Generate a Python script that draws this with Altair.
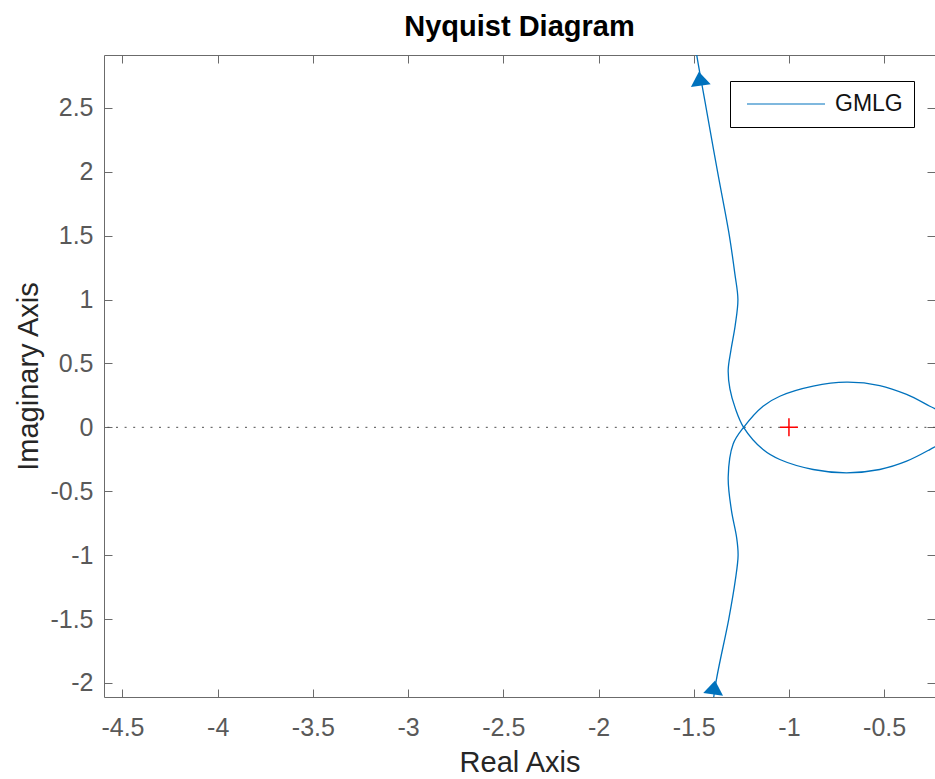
import altair as alt
import pandas as pd

# ---- data ----
# Nyquist curve, in drawing order (real part, imaginary part)
curve_re = [-1.410, -1.384, -1.316, -1.282, -1.267, -1.275, -1.302, -1.319, -1.293, -1.238,
            -1.136, -1.048, -0.873, -0.698, -0.523, -0.382, -0.260, -0.165, -0.125,
            -0.165, -0.260, -0.382, -0.523, -0.698, -0.873, -1.048, -1.136, -1.238,
            -1.282, -1.310, -1.319, -1.305, -1.282, -1.268, -1.284, -1.313, -1.375, -1.435,
            -1.485, -1.492]
curve_im = [-2.30, -2.00, -1.50, -1.20, -1.00, -0.86, -0.65, -0.39, -0.13, 0.00,
            0.165, 0.243, 0.322, 0.353, 0.327, 0.257, 0.165, 0.090, 0.000,
            -0.090, -0.174, -0.265, -0.330, -0.356, -0.330, -0.252, -0.174, 0.000,
            0.15, 0.30, 0.45, 0.60, 0.80, 1.00, 1.20, 1.50, 2.00, 2.50,
            2.92, 3.00]
series_name = "GMLG"

# direction arrows on the curve
arrow_re = [-1.468, -1.393]
arrow_im = [2.727, -2.036]
arrow_angle = [352, 8]

# critical point
crit_re = [-1.0]
crit_im = [0.0]

x_ticks = [-4.5, -4, -3.5, -3, -2.5, -2, -1.5, -1, -0.5]
y_ticks = [-2, -1.5, -1, -0.5, 0, 0.5, 1, 1.5, 2, 2.5]
x_domain = [-4.597, -0.233]
y_domain = [-2.11, 2.913]

# ---- tables ----
curve = pd.DataFrame({"re": curve_re, "im": curve_im,
                      "k": list(range(len(curve_re))),
                      "series": [series_name] * len(curve_re)})
arrows = pd.DataFrame({"re": arrow_re, "im": arrow_im, "ang": arrow_angle})
crit = pd.DataFrame({"re": crit_re, "im": crit_im})
zero_line = pd.DataFrame({"im": [0.0]})

FONT = "Liberation Sans"
BLUE = "#0072BD"
GRAY = "#6b6b6b"

xs = alt.Scale(domain=x_domain, nice=False, zero=False)
ys = alt.Scale(domain=y_domain, nice=False, zero=False)

W, H = 831, 642

rule = alt.Chart(zero_line).mark_rule(color="#4d4d4d", strokeDash=[2, 6.6], strokeWidth=1).encode(
    y=alt.Y("im:Q", scale=ys, axis=None)
)

line = alt.Chart(curve).mark_line(strokeWidth=1.3, interpolate="catmull-rom", clip=True).encode(
    x=alt.X("re:Q", scale=xs, axis=alt.Axis(
        orient="bottom", values=x_ticks, labelExpr="'' + datum.value",
        offset=-8, tickSize=8, ticks=True, domain=False, grid=False,
        labelPadding=18, labelFlush=False, labelOverlap=False,
        title="Real Axis", titleX=W / 2, titleY=73, titleAlign="center",
        titleBaseline="middle")),
    y=alt.Y("im:Q", scale=ys, axis=alt.Axis(
        orient="left", values=y_ticks, labelExpr="'' + datum.value",
        offset=-8, tickSize=8, ticks=True, domain=False, grid=False,
        labelPadding=11, labelFlush=False, labelOverlap=False,
        title="Imaginary Axis", titleX=-84, titleY=H / 2, titleAngle=270,
        titleAlign="center", titleBaseline="middle")),
    order=alt.Order("k:Q"),
    color=alt.Color("series:N", scale=alt.Scale(range=[BLUE]), legend=alt.Legend(
        title=None, orient="none", legendX=626, legendY=26,
        strokeColor="black", fillColor="white", padding=11,
        symbolType="stroke", symbolSize=6084, symbolStrokeWidth=1.2,
        clipHeight=24, symbolOffset=5, labelOffset=9,
        labelFont=FONT, labelFontSize=23, labelColor="#111111")),
)

plus = alt.Chart(crit).mark_point(shape="M-1,0L1,0M0,-1L0,1", filled=False, size=324,
                                  color="#FF0000", strokeWidth=1.5, opacity=1).encode(
    x=alt.X("re:Q", scale=xs, axis=None),
    y=alt.Y("im:Q", scale=ys, axis=None),
)

arrow_marks = alt.Chart(arrows).mark_point(shape="M0,-0.7L1,0.7L-1,0.7Z", filled=True, size=400,
                                           color=BLUE, opacity=1).encode(
    x=alt.X("re:Q", scale=xs, axis=None),
    y=alt.Y("im:Q", scale=ys, axis=None),
    angle=alt.Angle("ang:Q", scale=None),
)

# inward ticks on top and right edges (invisible carrier mark inside the plot)
box_ticks = alt.Chart(crit).mark_point(opacity=0, clip=True).encode(
    x=alt.X("re:Q", scale=xs, axis=alt.Axis(
        orient="top", values=x_ticks, offset=-8, tickSize=8, labels=False,
        domain=False, grid=False, title=None)),
    y=alt.Y("im:Q", scale=ys, axis=alt.Axis(
        orient="right", values=y_ticks, offset=-8, tickSize=8, labels=False,
        domain=False, grid=False, title=None)),
)

chart = alt.layer(rule, line, plus, arrow_marks, box_ticks).resolve_axis(
    x="independent", y="independent"
).properties(
    width=W, height=H,
    autosize=alt.AutoSizeParams(type="none"),
    padding={"left": 104, "top": 55, "right": 0, "bottom": 82},
    title=alt.TitleParams("Nyquist Diagram", font=FONT, fontSize=29, fontWeight="bold",
                          color="#000000", anchor="middle", frame="group",
                          baseline="alphabetic", offset=18, dy=28),
).configure_view(
    stroke=GRAY, strokeWidth=1
).configure_axis(
    labelFont=FONT, titleFont=FONT, labelFontSize=25, titleFontSize=29,
    labelColor="#595959", titleColor="#262626", tickColor=GRAY, tickWidth=1,
    titleFontWeight="normal"
)

chart.save("out.html", embed_options={"renderer": "svg", "actions": False})
